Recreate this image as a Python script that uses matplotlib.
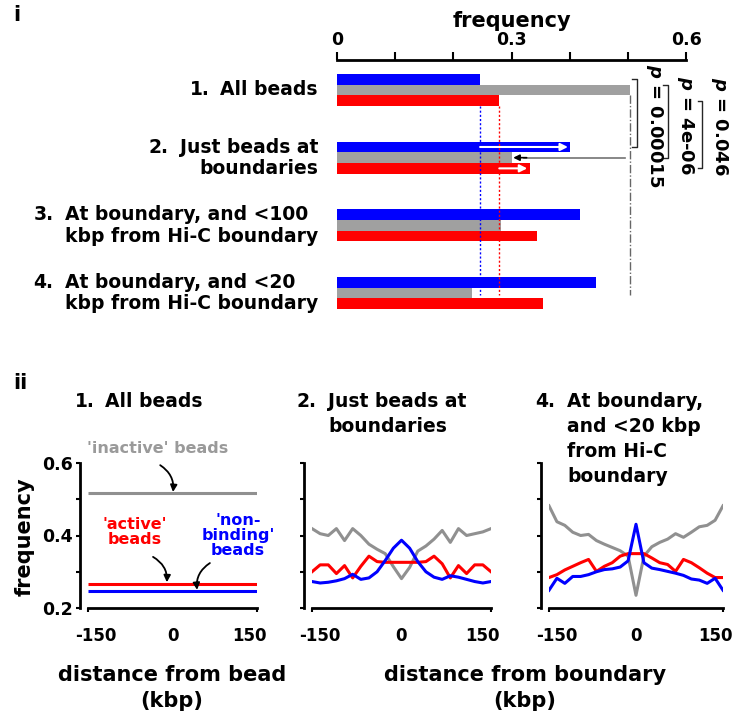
import matplotlib
matplotlib.use("Agg")
import matplotlib.pyplot as plt
import numpy as np
from matplotlib import transforms as mtransforms

plt.rcParams["font.family"] = ["DejaVu Sans"]
plt.rcParams["font.weight"] = "bold"
plt.rcParams["axes.labelweight"] = "bold"
plt.rcParams["mathtext.fontset"] = "custom"
plt.rcParams["mathtext.it"] = "DejaVu Sans:bold:italic"
plt.rcParams["axes.unicode_minus"] = False

BLUE = "#0000ff"
GRAY = "#a0a0a0"
RED = "#ff0000"
LINE_GRAY = "#909090"
W, H = 734, 719

# --- panel i: frequencies per bead subset ---
group_numbers = ["1.", "2.", "3.", "4."]
group_labels = [
    "All beads",
    "Just beads at\nboundaries",
    "At boundary, and <100\nkbp from Hi-C boundary",
    "At boundary, and <20\nkbp from Hi-C boundary",
]
label_align = ["right", "right", "left", "left"]
freq_nonbinding = [0.246, 0.401, 0.417, 0.446]
freq_inactive = [0.503, 0.301, 0.282, 0.232]
freq_active = [0.279, 0.332, 0.344, 0.354]
p_values = ["0.00015", "4e-06", "0.046"]

# --- panel ii: frequency vs distance ---
distance = [-165, -150, -135, -120, -105, -90, -75, -60, -45, -30, -15, 0,
            15, 30, 45, 60, 75, 90, 105, 120, 135, 150, 165]
all_nonbinding = 0.247
all_active = 0.266
all_inactive = 0.517
bnd_inactive = [0.419, 0.405, 0.400, 0.419, 0.386, 0.419, 0.400, 0.376, 0.362, 0.350, 0.314, 0.281,
                0.312, 0.357, 0.371, 0.390, 0.414, 0.381, 0.419, 0.400, 0.405, 0.410, 0.419]
bnd_active = [0.300, 0.319, 0.319, 0.295, 0.317, 0.283, 0.315, 0.343, 0.328, 0.326, 0.326, 0.326,
              0.326, 0.326, 0.328, 0.343, 0.322, 0.283, 0.317, 0.295, 0.319, 0.319, 0.300]
bnd_nonbinding = [0.273, 0.269, 0.271, 0.275, 0.281, 0.293, 0.279, 0.283, 0.300, 0.331, 0.365, 0.387,
                  0.365, 0.328, 0.300, 0.285, 0.279, 0.289, 0.285, 0.279, 0.273, 0.269, 0.273]
hic_inactive = [0.482, 0.438, 0.428, 0.409, 0.400, 0.403, 0.386, 0.376, 0.367, 0.358, 0.343, 0.235,
                0.343, 0.369, 0.381, 0.390, 0.405, 0.395, 0.409, 0.424, 0.428, 0.442, 0.482]
hic_active = [0.284, 0.292, 0.305, 0.315, 0.325, 0.334, 0.301, 0.315, 0.325, 0.343, 0.350, 0.350,
              0.350, 0.338, 0.325, 0.320, 0.301, 0.334, 0.325, 0.311, 0.296, 0.284, 0.284]
hic_nonbinding = [0.249, 0.282, 0.268, 0.287, 0.287, 0.292, 0.300, 0.306, 0.308, 0.313, 0.330, 0.431,
                  0.325, 0.310, 0.306, 0.301, 0.296, 0.290, 0.280, 0.277, 0.268, 0.282, 0.249]


def fx(px):
    return px / W


def fy(py):
    return 1 - py / H


fig = plt.figure(figsize=(W / 100, H / 100), dpi=100)
renderer = fig.canvas.get_renderer()

# ---------------- panel i ----------------
ax = fig.add_axes([fx(337), fy(310), (686 - 337) / W, 250 / H])
ypos = np.arange(len(group_labels))
h = 0.158
ax.barh(ypos - h, freq_nonbinding, height=h, color=BLUE)
ax.barh(ypos, freq_inactive, height=h, color=GRAY)
ax.barh(ypos + h, freq_active, height=h, color=RED)
ax.set_xlim(0, 0.6)
ax.set_ylim(3.25, -0.443)
for s in ("bottom", "left", "right"):
    ax.spines[s].set_visible(False)
ax.spines["top"].set_linewidth(2)
ax.xaxis.tick_top()
ax.set_xticks(np.arange(0, 0.61, 0.1))
ax.set_xticklabels(["0", "", "", "0.3", "", "", "0.6"])
ax.tick_params(axis="x", direction="out", length=6, width=1.5, labelsize=12.5, pad=2)
ax.set_yticks([])
ax.xaxis.set_label_position("top")
ax.set_xlabel("frequency", fontsize=15, labelpad=3)

# reference lines from "all beads"
y_end = ypos[-1] + 0.03
ax.vlines(freq_nonbinding[0], ypos[0] + 1.5 * h, y_end, colors=BLUE, linestyles=(0, (1.5, 1.5)), lw=1)
ax.vlines(freq_active[0], ypos[0] + 1.5 * h, y_end, colors=RED, linestyles=(0, (1.5, 1.5)), lw=1)
ax.vlines(freq_inactive[0], ypos[0] + 0.5 * h, y_end, colors="0.4", linestyles=(0, (6, 1.5, 1, 1.5)), lw=1)

# shift arrows in group 2
g = 1
arrow_kw = dict(arrowstyle="-|>", lw=1.5, mutation_scale=11, shrinkA=0, shrinkB=0)
ax.annotate("", xy=(freq_nonbinding[g] - 0.004, g - h), xytext=(freq_nonbinding[0], g - h),
            arrowprops=dict(color="white", **arrow_kw))
ax.annotate("", xy=(freq_active[g] - 0.005, g + h), xytext=(freq_active[0], g + h),
            arrowprops=dict(color="white", **arrow_kw))
ax.plot([freq_inactive[g] + 0.02, freq_inactive[0] - 0.008], [g, g], color="0.45", lw=1.2)
ax.annotate("", xy=(freq_inactive[g] + 0.002, g), xytext=(freq_inactive[g] + 0.025, g),
            arrowprops=dict(color="black", arrowstyle="-|>", lw=1.2, mutation_scale=9, shrinkA=0, shrinkB=0))

# significance brackets
brackets = [
    (0.516, ypos[0] - h, ypos[1] - h),
    (0.569, ypos[0] - 0.5 * h, ypos[1]),
    (0.628, ypos[0] + h, ypos[1] + h),
]
for (bx, y0, y1), pv in zip(brackets, p_values):
    ax.plot([bx - 0.008, bx, bx, bx - 0.008], [y0, y0, y1, y1], color="0.15", lw=1, clip_on=False)
    ax.text(bx + 0.03, 0.53, "$p$ = " + pv, rotation=270, ha="center", va="center",
            fontsize=13, clip_on=False)

# category labels, number hangs left of the text block
trans = mtransforms.blended_transform_factory(fig.transFigure, ax.transData)
for i, (num, lab, al) in enumerate(zip(group_numbers, group_labels, label_align)):
    body = fig.text(fx(318), ypos[i], lab, transform=trans, ha="right", va="center",
                    multialignment=al, fontsize=13.5, linespacing=1.15)
    bb = mtransforms.BboxTransformTo(body.get_window_extent(renderer))
    fig.text(0, 1, num, ha="right", va="top", fontsize=13.5,
             transform=mtransforms.offset_copy(bb, fig=fig, x=-8, y=0, units="points"))

# ---------------- panel ii ----------------
fig.text(fx(13), fy(15), "i", fontsize=15, ha="left", va="center")
fig.text(fx(13), fy(383), "ii", fontsize=15, ha="left", va="center")


def style_panel(a, show_labels):
    a.set_xlim(distance[0], distance[-1])
    a.set_ylim(0.2, 0.6)
    a.spines["top"].set_visible(False)
    a.spines["right"].set_visible(False)
    a.spines["left"].set_position(("outward", 6))
    a.spines["left"].set_linewidth(2)
    a.spines["bottom"].set_linewidth(2)
    a.set_yticks(np.arange(0.2, 0.61, 0.1))
    a.set_yticklabels(["0.2", "", "0.4", "", "0.6"] if show_labels else [])
    a.tick_params(axis="y", direction="out", length=3, width=1.5, labelsize=12.5, pad=2)
    a.set_xticks([-150, 0, 150])
    a.set_xticklabels(["-150", "0", "150"])
    a.set_xticks([distance[0], 0, distance[-1]], minor=True)
    a.tick_params(axis="x", which="major", length=0, pad=14, labelsize=12)
    a.tick_params(axis="x", which="minor", direction="out", length=3, width=1.5)


lw = 2.2
ax1 = fig.add_axes([fx(88), fy(608), 169 / W, 145 / H])
ax1.hlines(all_inactive, distance[0], distance[-1], colors=LINE_GRAY, lw=lw)
ax1.hlines(all_active, distance[0], distance[-1], colors=RED, lw=lw)
ax1.hlines(all_nonbinding, distance[0], distance[-1], colors=BLUE, lw=lw)
style_panel(ax1, True)

txt_kw = dict(fontsize=11.5, ha="center", va="center", clip_on=False, linespacing=1.0)
ax1.text(-30, 0.639, "'inactive' beads", color="#9a9a9a", **txt_kw)
ax1.text(-73, 0.41, "'active'\nbeads", color=RED, **txt_kw)
ax1.text(128, 0.401, "'non-\nbinding'\nbeads", color=BLUE, **txt_kw)

curved = [
    ((-24, 0.594), (1, all_inactive + 0.003), -0.3),
    ((-38, 0.341), (-11, all_active + 0.005), -0.3),
    ((73, 0.324), (48, all_nonbinding + 0.003), 0.3),
]
for start, end, rad in curved:
    ax1.annotate("", xy=end, xytext=start, annotation_clip=False,
                 arrowprops=dict(arrowstyle="-|>", color="black", lw=1.3, mutation_scale=10,
                                 connectionstyle=f"arc3,rad={rad}", shrinkA=0, shrinkB=0))

ax2 = fig.add_axes([fx(312), fy(608), 179 / W, 145 / H])
ax2.plot(distance, bnd_inactive, color=LINE_GRAY, lw=lw)
ax2.plot(distance, bnd_active, color=RED, lw=lw)
ax2.plot(distance, bnd_nonbinding, color=BLUE, lw=lw)
style_panel(ax2, False)

ax3 = fig.add_axes([fx(549), fy(608), 174 / W, 145 / H])
ax3.plot(distance, hic_inactive, color=LINE_GRAY, lw=lw)
ax3.plot(distance, hic_active, color=RED, lw=lw)
ax3.plot(distance, hic_nonbinding, color=BLUE, lw=lw)
style_panel(ax3, False)

# panel titles
title_kw = dict(fontsize=13.5, ha="left", va="top", linespacing=1.4)
title_top = fy(392)
fig.text(fx(75), title_top, "1.", **title_kw)
fig.text(fx(105), title_top, "All beads", **title_kw)
fig.text(fx(297), title_top, "2.", **title_kw)
fig.text(fx(328), title_top, "Just beads at\nboundaries", **title_kw)
fig.text(fx(535), title_top, "4.", **title_kw)
fig.text(fx(567), title_top, "At boundary,\nand <20 kbp\nfrom Hi-C\nboundary", **title_kw)

# axis labels
fig.text(fx(25), fy(537), "frequency", rotation=90, fontsize=15, ha="center", va="center")
fig.text(fx(172), fy(688), "distance from bead\n(kbp)", fontsize=15, ha="center", va="center",
         multialignment="center", linespacing=1.4)
fig.text(fx(525), fy(688), "distance from boundary\n(kbp)", fontsize=15, ha="center", va="center",
         multialignment="center", linespacing=1.4)

fig.savefig("out.png", dpi=100)
